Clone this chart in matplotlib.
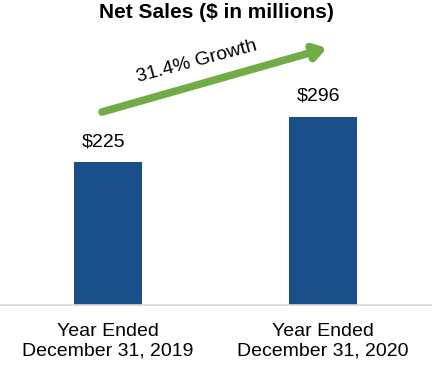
import matplotlib
matplotlib.use("Agg")
import matplotlib.pyplot as plt

categories = ["Year Ended\nDecember 31, 2019", "Year Ended\nDecember 31, 2020"]
values = [225, 296]
value_labels = ["$225", "$296"]
title = "Net Sales ($ in millions)"
growth_label = "31.4% Growth"

plt.rcParams['font.family'] = ['Liberation Sans', 'DejaVu Sans']

fig = plt.figure(figsize=(4.32, 3.66), dpi=100)
ax = fig.add_axes([0, (366-305)/366, 1.0, 222.6/366])
x = list(range(len(categories)))
ax.bar(x, values, width=0.316, color="#1B4F8A")
ax.set_xlim(-0.502, 1.507)
ax.set_ylim(0, 350)
for xi, v, lab in zip(x, values, value_labels):
    ax.text(xi - 0.02, v + 32, lab, ha="center", va="center", fontsize=14, color="black")
for s in ["top", "right", "left"]:
    ax.spines[s].set_visible(False)
ax.spines["bottom"].set_color("#D9D9D9")
ax.spines["bottom"].set_linewidth(1.2)
ax.set_yticks([])
ax.set_xticks(x)
ax.set_xticklabels(categories, fontsize=14, linespacing=1.2)
ax.tick_params(axis="x", length=0, pad=13)

fig.text(0.5, 1 - 13/366, title, ha="center", va="center", fontsize=15, fontweight="bold")

ax.annotate("", xy=(327, 366-48), xytext=(102, 366-112), xycoords="figure pixels",
            textcoords="figure pixels",
            arrowprops=dict(arrowstyle="-|>,head_length=0.7,head_width=0.45", color="#70AD47",
                            lw=5.5, shrinkA=0, shrinkB=0), annotation_clip=False)
fig.text(197/432, 1 - 62/366, growth_label, ha="center", va="center", fontsize=14, rotation=15)

fig.savefig("out.png", dpi=100)
